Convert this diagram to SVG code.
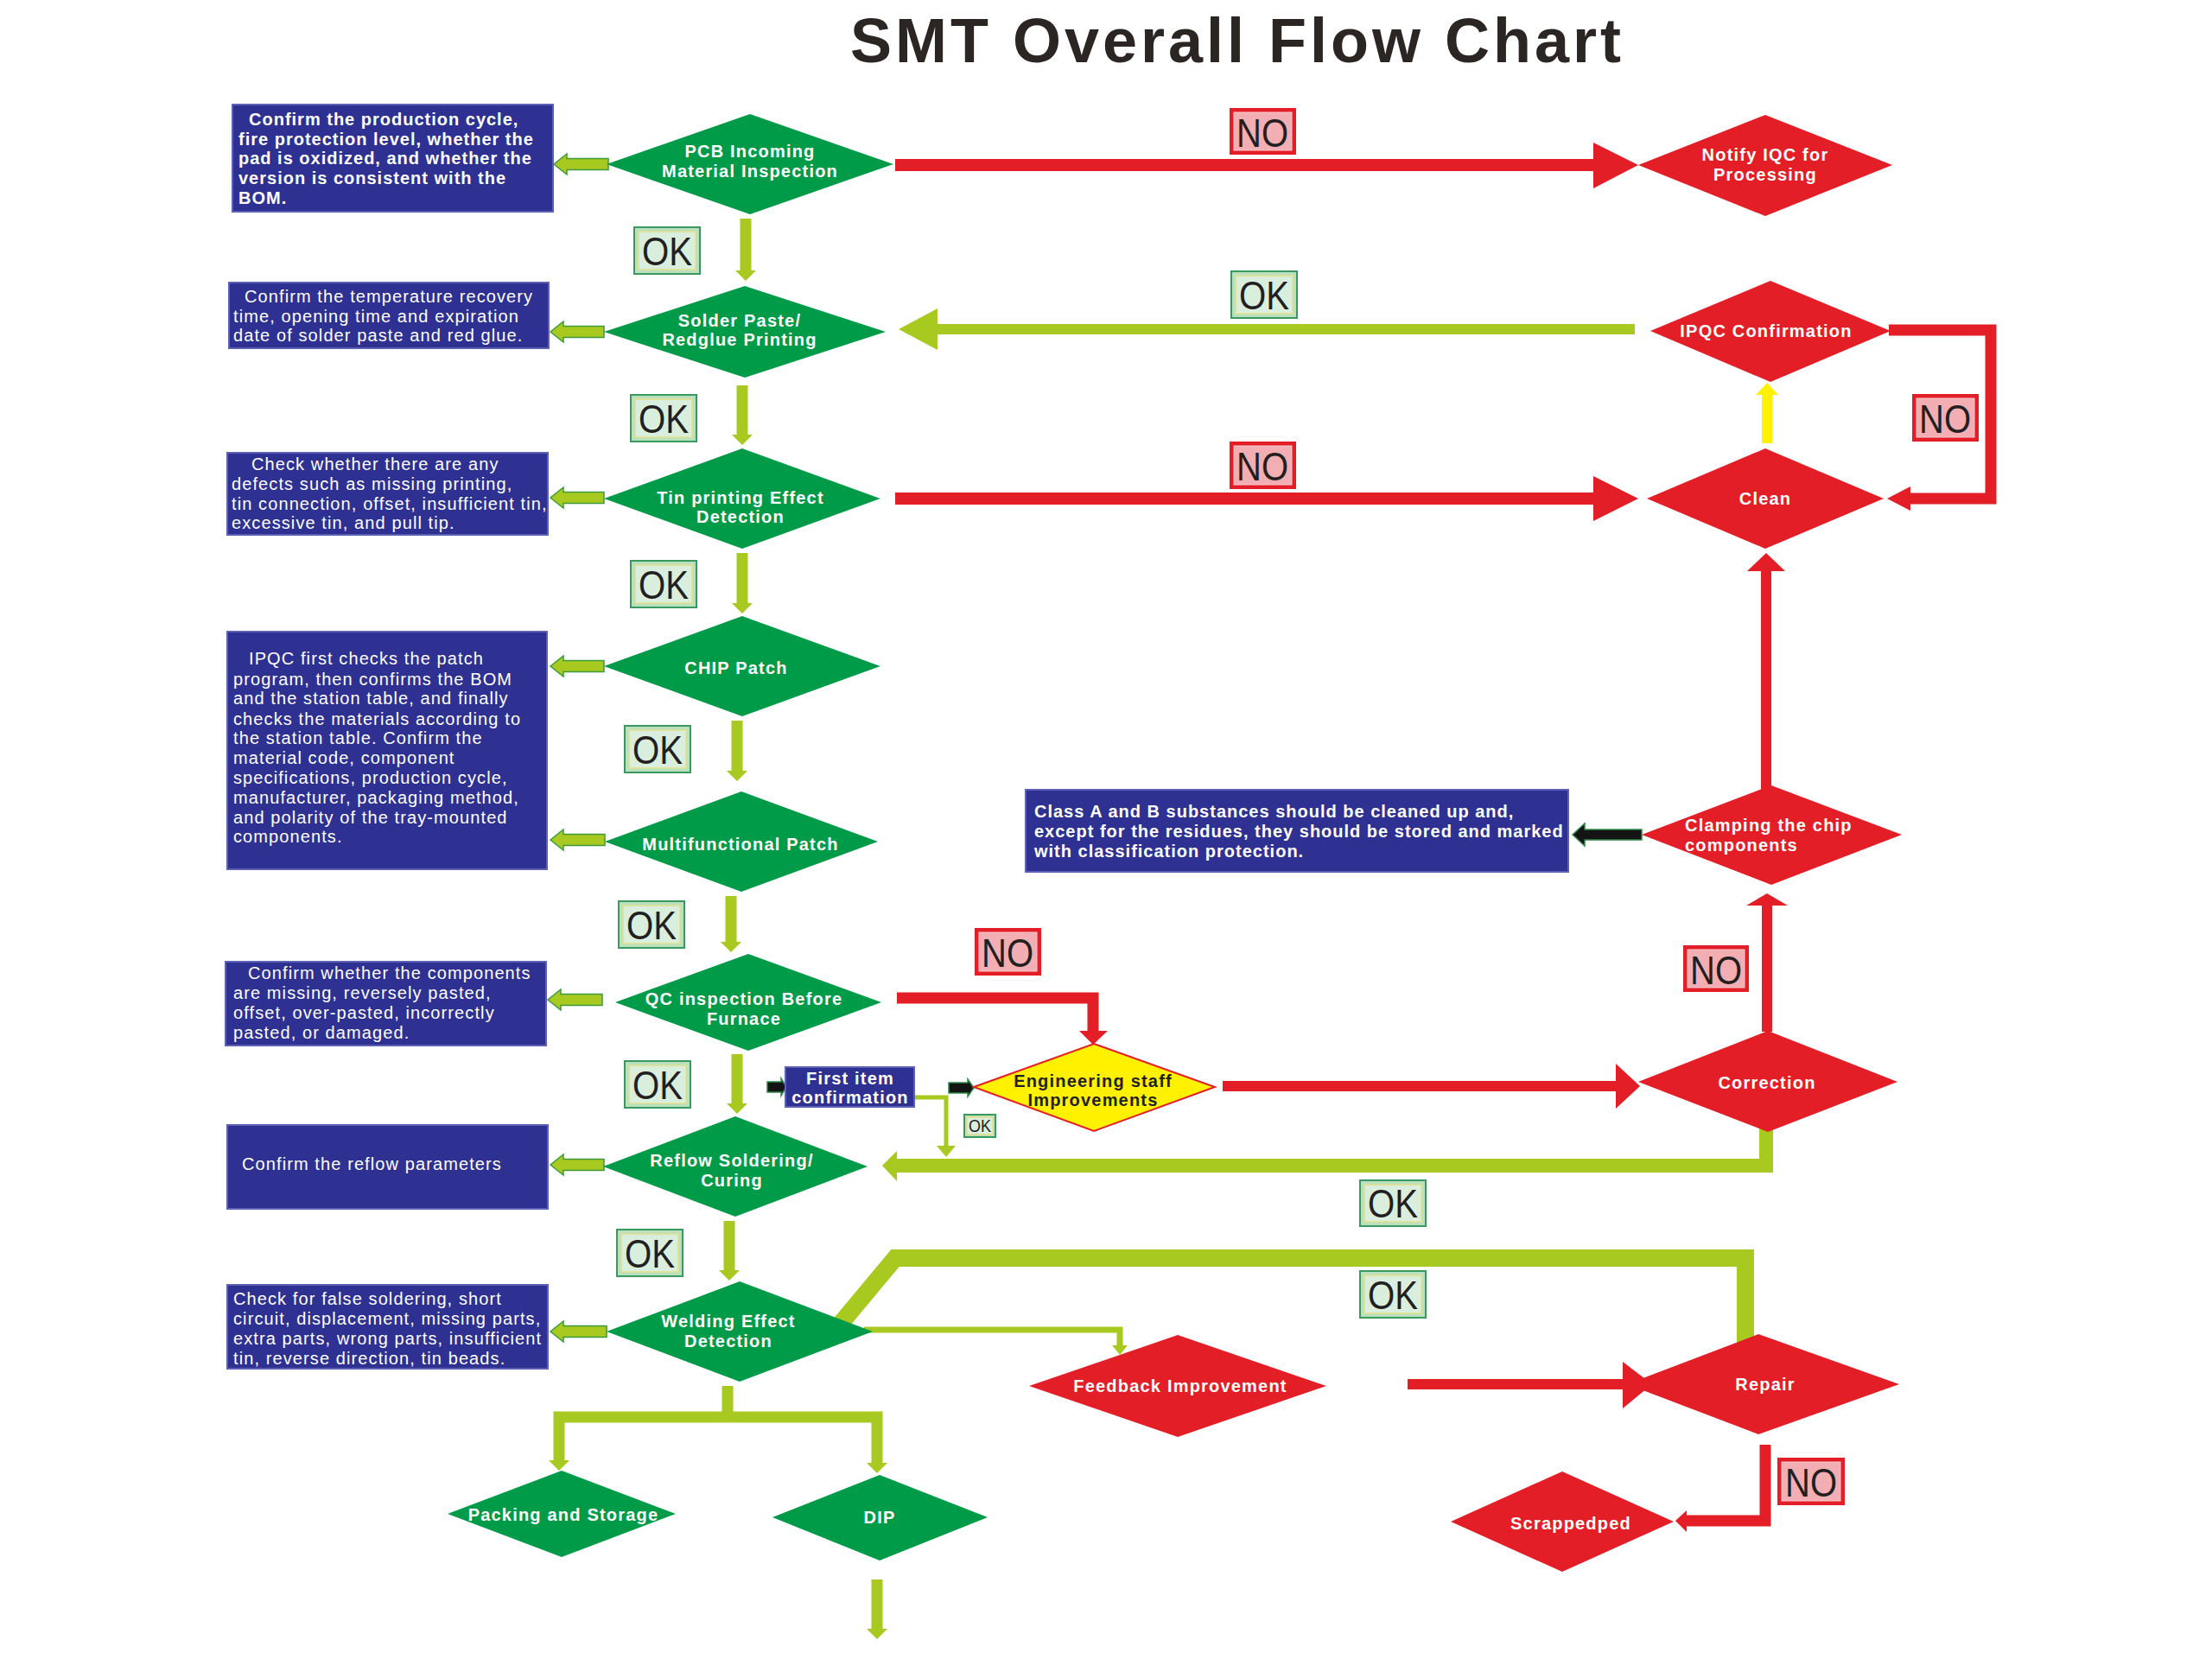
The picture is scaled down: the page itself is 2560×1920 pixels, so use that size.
<svg xmlns="http://www.w3.org/2000/svg" width="2560" height="1920" viewBox="0 0 2560 1920">
<defs>
<style>
.bg{fill:#ffffff}
.dg{fill:#009b48}
.dr{fill:#e41e26}
.dy{fill:#fff100;stroke:#e41e26;stroke-width:2}
.note{fill:#2e3192;stroke:#5d61b3;stroke-width:2}
.t{font-family:"Liberation Sans",Arial,sans-serif;font-size:20px;font-weight:bold;letter-spacing:1.2px;fill:#ffffff;text-anchor:middle}
.tk{fill:#231f20}
.n{font-family:"Liberation Sans",Arial,sans-serif;font-size:20px;letter-spacing:1.1px;fill:#ffffff}
.nb{font-family:"Liberation Sans",Arial,sans-serif;font-size:20px;font-weight:bold;letter-spacing:1px;fill:#ffffff}
.lime{fill:#a8c91f}
.limes{fill:none;stroke:#a8c91f;stroke-linejoin:miter}
.red{fill:#e41e26}
.reds{fill:none;stroke:#e41e26;stroke-linejoin:miter}
.la{fill:#a8c91f;stroke:#3d9a3d;stroke-width:1.5}
.blk{fill:#141414;stroke:#2e8b4a;stroke-width:1.5}
.yel{fill:#fff100}
.oko{fill:#b9e0bf;stroke:#3a9a5e;stroke-width:2}
.oki{fill:#d9eedc;stroke:#e2e08a;stroke-width:1.5}
.noo{fill:#e41e26}
.noi{fill:#f3aeb3;stroke:#f7c9cc;stroke-width:1}
.lbl{font-family:"Liberation Sans",Arial,sans-serif;font-size:46px;fill:#231f20;text-anchor:middle}
.title{font-family:"Liberation Sans",Arial,sans-serif;font-size:72px;font-weight:bold;letter-spacing:4px;fill:#2b2523;text-anchor:middle}
</style>
</defs>
<rect class="bg" x="0" y="0" width="2560" height="1920"/>
<text class="title" x="1432" y="72">SMT Overall Flow Chart</text>

<g id="connectors">
  <!-- note pointer arrows -->
  <polygon class="la" points="641,190 656,178 656,183.5 704,183.5 704,196.5 656,196.5 656,202"/>
  <polygon class="la" points="637,384 652,372 652,377.5 699,377.5 699,390.5 652,390.5 652,396"/>
  <polygon class="la" points="637,576 652,564 652,569.5 699,569.5 699,582.5 652,582.5 652,588"/>
  <polygon class="la" points="637,771 652,759 652,764.5 699,764.5 699,777.5 652,777.5 652,783"/>
  <polygon class="la" points="637,972 652,960 652,965.5 700,965.5 700,978.5 652,978.5 652,984"/>
  <polygon class="la" points="634,1157 649,1145 649,1150.5 697,1150.5 697,1163.5 649,1163.5 649,1169"/>
  <polygon class="la" points="637,1348 652,1336 652,1341.5 699,1341.5 699,1354.5 652,1354.5 652,1360"/>
  <polygon class="la" points="637,1541 652,1529 652,1534.5 702,1534.5 702,1547.5 652,1547.5 652,1553"/>
  <!-- main flow down arrows -->
  <polygon class="lime" points="856.5,253 869.5,253 869.5,313 875,313 863,325 851,313 856.5,313"/>
  <polygon class="lime" points="852.5,446 865.5,446 865.5,503 871,503 859,515 847,503 852.5,503"/>
  <polygon class="lime" points="852.5,640 865.5,640 865.5,698 871,698 859,710 847,698 852.5,698"/>
  <polygon class="lime" points="846.5,834 859.5,834 859.5,892 865,892 853,904 841,892 846.5,892"/>
  <polygon class="lime" points="839.5,1037 852.5,1037 852.5,1090 858,1090 846,1102 834,1090 839.5,1090"/>
  <polygon class="lime" points="846.5,1220 859.5,1220 859.5,1277 865,1277 853,1289 841,1277 846.5,1277"/>
  <polygon class="lime" points="837.5,1413 850.5,1413 850.5,1470 856,1470 844,1482 832,1470 837.5,1470"/>
  <!-- split to packing / DIP -->
  <path class="limes" stroke-width="13" d="M842,1604 V1640 M647,1691 V1640 H1015 V1694"/>
  <polygon class="lime" points="635,1690 659,1690 647,1702"/>
  <polygon class="lime" points="1003,1693 1027,1693 1015,1705"/>
  <polygon class="lime" points="1008.5,1828 1021.5,1828 1021.5,1885 1027,1885 1015,1897 1003,1885 1008.5,1885"/>
  <!-- IPQC OK back to solder paste -->
  <rect class="lime" x="1083" y="375" width="809" height="12"/>
  <polygon class="lime" points="1085,357 1040,381 1085,405"/>
  <!-- correction back to reflow -->
  <path class="limes" stroke-width="16" d="M2044,1300 V1349 H1034"/>
  <polygon class="lime" points="1038,1332 1021,1349 1038,1367"/>
  <!-- first item OK -->
  <path class="limes" stroke-width="5" d="M1056,1270 H1095 V1328"/>
  <polygon class="lime" points="1084,1326 1106,1326 1095,1339"/>
  <!-- welding to repair -->
  <path class="limes" stroke-width="20" d="M966,1540 L1036,1456 H2020 V1560"/>
  <!-- welding to feedback -->
  <path class="limes" stroke-width="7" d="M1000,1539 H1296 V1559"/>
  <polygon class="lime" points="1287,1557 1305,1557 1296,1568"/>
  <!-- red: PCB to notify -->
  <rect class="red" x="1036" y="184" width="810" height="14"/>
  <polygon class="red" points="1844,165 1896,191 1844,218"/>
  <!-- red: tin to clean -->
  <rect class="red" x="1036" y="570" width="810" height="14"/>
  <polygon class="red" points="1844,551 1896,577 1844,603"/>
  <!-- IPQC NO loop to clean -->
  <path class="reds" stroke-width="13" d="M2186,382 H2304 V577 H2208"/>
  <polygon class="red" points="2211,563 2184,577 2211,591"/>
  <!-- clean to IPQC (yellow) -->
  <rect class="yel" x="2039" y="455" width="12" height="58"/>
  <polygon class="yel" points="2032,457 2045,443 2058,457"/>
  <!-- clamping to clean -->
  <rect class="red" x="2038" y="655" width="12" height="260"/>
  <polygon class="red" points="2022,661 2044,640 2066,661"/>
  <!-- correction to clamping -->
  <rect class="red" x="2039" y="1042" width="12" height="152"/>
  <polygon class="red" points="2021,1048 2045,1034 2069,1048"/>
  <!-- QC to engineering -->
  <path class="reds" stroke-width="13" d="M1038,1155 H1265 V1196"/>
  <polygon class="red" points="1249,1193 1282,1193 1265,1209"/>
  <!-- engineering to correction -->
  <rect class="red" x="1415" y="1251" width="458" height="12"/>
  <polygon class="red" points="1870,1231 1898,1257 1870,1283"/>
  <!-- feedback to repair -->
  <rect class="red" x="1629" y="1596" width="255" height="12"/>
  <polygon class="red" points="1878,1576 1912,1602 1878,1630"/>
  <!-- repair to scrapped -->
  <path class="reds" stroke-width="13" d="M2043,1672 V1760 H1948"/>
  <polygon class="red" points="1952,1748 1939,1760 1952,1773"/>
  <!-- black pointers -->
  <polygon class="blk" points="1900,960 1834,960 1834,953 1820,966 1834,979 1834,972 1900,972"/>
  <polygon class="blk" points="888,1252 904,1252 904,1248 910,1258 904,1268 904,1264 888,1264"/>
  <polygon class="blk" points="1098,1253 1120,1253 1120,1249 1127,1259 1120,1269 1120,1265 1098,1265"/>
</g>

<g id="n-pcb"><polygon class="dg" points="702,190 868,132 1034,190 868,248"/>
<text class="t" x="868" y="182">PCB Incoming</text><text class="t" x="868" y="205">Material Inspection</text></g>
<g id="n-solder"><polygon class="dg" points="699,384 862,331 1025,384 862,437"/>
<text class="t" x="856" y="378">Solder Paste/</text><text class="t" x="856" y="400">Redglue Printing</text></g>
<g id="n-tin"><polygon class="dg" points="699,577 859,519 1019,577 859,635"/>
<text class="t" x="857" y="583">Tin printing Effect</text><text class="t" x="857" y="605">Detection</text></g>
<g id="n-chip"><polygon class="dg" points="699,771 859,713 1019,771 859,829"/>
<text class="t" x="852" y="780">CHIP Patch</text></g>
<g id="n-multi"><polygon class="dg" points="700,974 858,916 1016,974 858,1032"/>
<text class="t" x="857" y="984">Multifunctional Patch</text></g>
<g id="n-qc"><polygon class="dg" points="712,1160 866,1104 1020,1160 866,1216"/>
<text class="t" x="861" y="1163">QC inspection Before</text><text class="t" x="861" y="1186">Furnace</text></g>
<g id="n-reflow"><polygon class="dg" points="698,1350 851,1292 1004,1350 851,1408"/>
<text class="t" x="847" y="1350">Reflow Soldering/</text><text class="t" x="847" y="1373">Curing</text></g>
<g id="n-welding"><polygon class="dg" points="702,1541 856,1483 1010,1541 856,1599"/>
<text class="t" x="843" y="1536">Welding Effect</text><text class="t" x="843" y="1559">Detection</text></g>
<g id="n-packing"><polygon class="dg" points="518,1752 650,1702 782,1752 650,1802"/>
<text class="t" x="652" y="1760">Packing and Storage</text></g>
<g id="n-dip"><polygon class="dg" points="894,1756 1018,1707 1143,1756 1018,1806"/>
<text class="t" x="1018" y="1763">DIP</text></g>

<g id="n-notify"><polygon class="dr" points="1896,191 2043,133 2190,191 2043,250"/>
<text class="t" x="2043" y="186">Notify IQC for</text><text class="t" x="2043" y="209">Processing</text></g>
<g id="n-ipqc"><polygon class="dr" points="1910,383 2049,325 2188,383 2049,442"/>
<text class="t" x="2044" y="390">IPQC Confirmation</text></g>
<g id="n-clean"><polygon class="dr" points="1906,577 2043,519 2180,577 2043,635"/>
<text class="t" x="2043" y="584">Clean</text></g>
<g id="n-clamping"><polygon class="dr" points="1900,966 2050,909 2201,966 2050,1024"/>
<text class="t" style="text-anchor:start" x="1950" y="962">Clamping the chip</text><text class="t" style="text-anchor:start" x="1950" y="985">components</text></g>
<g id="n-correction"><polygon class="dr" points="1896,1252 2046,1193 2196,1252 2046,1310"/>
<text class="t" x="2045" y="1260">Correction</text></g>
<g id="n-feedback"><polygon class="dr" points="1191,1604 1363,1545 1535,1604 1363,1663"/>
<text class="t" x="1366" y="1611">Feedback Improvement</text></g>
<g id="n-repair"><polygon class="dr" points="1883,1602 2035,1544 2198,1602 2035,1660"/>
<text class="t" x="2043" y="1609">Repair</text></g>
<g id="n-scrapped"><polygon class="dr" points="1679,1761 1808,1703 1937,1761 1808,1819"/>
<text class="t" x="1818" y="1770">Scrappedped</text></g>
<g id="n-engineering"><polygon class="dy" points="1127,1258 1266,1208 1406,1258 1266,1309"/>
<text class="t tk" x="1265" y="1258">Engineering staff</text><text class="t tk" x="1265" y="1280">Improvements</text></g>

<g id="n-firstitem"><rect class="note" x="909" y="1235" width="149" height="46"/>
<text class="t" x="984" y="1255">First item</text><text class="t" x="984" y="1277">confirmation</text></g>

<g id="note-pcb"><rect class="note" x="269" y="121" width="371" height="124"/>
<text class="nb" x="288" y="145">Confirm the production cycle,</text>
<text class="nb" x="276" y="168">fire protection level, whether the</text>
<text class="nb" x="276" y="190">pad is oxidized, and whether the</text>
<text class="nb" x="276" y="213">version is consistent with the</text>
<text class="nb" x="276" y="236">BOM.</text></g>
<g id="note-solder"><rect class="note" x="265" y="327" width="370" height="76"/>
<text class="n" x="283" y="350">Confirm the temperature recovery</text>
<text class="n" x="270" y="373">time, opening time and expiration</text>
<text class="n" x="270" y="395">date of solder paste and red glue.</text></g>
<g id="note-tin"><rect class="note" x="263" y="524" width="371" height="95"/>
<text class="n" x="291" y="544">Check whether there are any</text>
<text class="n" x="268" y="567">defects such as missing printing,</text>
<text class="n" x="268" y="590">tin connection, offset, insufficient tin,</text>
<text class="n" x="268" y="612">excessive tin, and pull tip.</text></g>
<g id="note-patch"><rect class="note" x="263" y="731" width="370" height="275"/>
<text class="n" x="288" y="769">IPQC first checks the patch</text>
<text class="n" x="270" y="793">program, then confirms the BOM</text>
<text class="n" x="270" y="815">and the station table, and finally</text>
<text class="n" x="270" y="839">checks the materials according to</text>
<text class="n" x="270" y="861">the station table. Confirm the</text>
<text class="n" x="270" y="884">material code, component</text>
<text class="n" x="270" y="907">specifications, production cycle,</text>
<text class="n" x="270" y="930">manufacturer, packaging method,</text>
<text class="n" x="270" y="953">and polarity of the tray-mounted</text>
<text class="n" x="270" y="975">components.</text></g>
<g id="note-qc"><rect class="note" x="261" y="1113" width="371" height="97"/>
<text class="n" x="287" y="1133">Confirm whether the components</text>
<text class="n" x="270" y="1156">are missing, reversely pasted,</text>
<text class="n" x="270" y="1179">offset, over-pasted, incorrectly</text>
<text class="n" x="270" y="1202">pasted, or damaged.</text></g>
<g id="note-reflow"><rect class="note" x="263" y="1302" width="371" height="97"/>
<text class="n" x="280" y="1354">Confirm the reflow parameters</text></g>
<g id="note-welding"><rect class="note" x="263" y="1487" width="371" height="97"/>
<text class="n" x="270" y="1510">Check for false soldering, short</text>
<text class="n" x="270" y="1533">circuit, displacement, missing parts,</text>
<text class="n" x="270" y="1556">extra parts, wrong parts, insufficient</text>
<text class="n" x="270" y="1579">tin, reverse direction, tin beads.</text></g>
<g id="note-clamping"><rect class="note" x="1187" y="914" width="628" height="95"/>
<text class="nb" x="1197" y="946">Class A and B substances should be cleaned up and,</text>
<text class="nb" x="1197" y="969">except for the residues, they should be stored and marked</text>
<text class="nb" x="1197" y="992">with classification protection.</text></g>

<g id="labels">
  <g><rect class="oko" x="734" y="263" width="76" height="54"/><rect class="oki" x="739" y="268" width="66" height="44"/><text class="lbl" x="772" y="307" textLength="58" lengthAdjust="spacingAndGlyphs">OK</text></g>
  <g><rect class="oko" x="730" y="457" width="76" height="54"/><rect class="oki" x="735" y="462" width="66" height="44"/><text class="lbl" x="768" y="501" textLength="58" lengthAdjust="spacingAndGlyphs">OK</text></g>
  <g><rect class="oko" x="730" y="649" width="76" height="54"/><rect class="oki" x="735" y="654" width="66" height="44"/><text class="lbl" x="768" y="693" textLength="58" lengthAdjust="spacingAndGlyphs">OK</text></g>
  <g><rect class="oko" x="723" y="840" width="76" height="54"/><rect class="oki" x="728" y="845" width="66" height="44"/><text class="lbl" x="761" y="884" textLength="58" lengthAdjust="spacingAndGlyphs">OK</text></g>
  <g><rect class="oko" x="716" y="1043" width="76" height="54"/><rect class="oki" x="721" y="1048" width="66" height="44"/><text class="lbl" x="754" y="1087" textLength="58" lengthAdjust="spacingAndGlyphs">OK</text></g>
  <g><rect class="oko" x="723" y="1228" width="76" height="54"/><rect class="oki" x="728" y="1233" width="66" height="44"/><text class="lbl" x="761" y="1272" textLength="58" lengthAdjust="spacingAndGlyphs">OK</text></g>
  <g><rect class="oko" x="714" y="1423" width="76" height="54"/><rect class="oki" x="719" y="1428" width="66" height="44"/><text class="lbl" x="752" y="1467" textLength="58" lengthAdjust="spacingAndGlyphs">OK</text></g>
  <g><rect class="oko" x="1425" y="314" width="76" height="54"/><rect class="oki" x="1430" y="319" width="66" height="44"/><text class="lbl" x="1463" y="358" textLength="58" lengthAdjust="spacingAndGlyphs">OK</text></g>
  <g><rect class="oko" x="1574" y="1366" width="76" height="53"/><rect class="oki" x="1579" y="1371" width="66" height="43"/><text class="lbl" x="1612" y="1409" textLength="58" lengthAdjust="spacingAndGlyphs">OK</text></g>
  <g><rect class="oko" x="1574" y="1471" width="76" height="54"/><rect class="oki" x="1579" y="1476" width="66" height="44"/><text class="lbl" x="1612" y="1515" textLength="58" lengthAdjust="spacingAndGlyphs">OK</text></g>
  <g><rect class="oko" x="1116" y="1290" width="36" height="26"/><rect class="oki" x="1119" y="1293" width="30" height="20"/><text class="lbl" style="font-size:20px" x="1134" y="1310" textLength="26" lengthAdjust="spacingAndGlyphs">OK</text></g>
  <g><rect class="noo" x="1423" y="125" width="77" height="54"/><rect class="noi" x="1428" y="130" width="67" height="44"/><text class="lbl" x="1461" y="170" textLength="60" lengthAdjust="spacingAndGlyphs">NO</text></g>
  <g><rect class="noo" x="1423" y="511" width="77" height="55"/><rect class="noi" x="1428" y="516" width="67" height="45"/><text class="lbl" x="1461" y="556" textLength="60" lengthAdjust="spacingAndGlyphs">NO</text></g>
  <g><rect class="noo" x="2213" y="456" width="77" height="55"/><rect class="noi" x="2218" y="461" width="67" height="45"/><text class="lbl" x="2251" y="501" textLength="60" lengthAdjust="spacingAndGlyphs">NO</text></g>
  <g><rect class="noo" x="1128" y="1074" width="77" height="55"/><rect class="noi" x="1133" y="1079" width="67" height="45"/><text class="lbl" x="1166" y="1119" textLength="60" lengthAdjust="spacingAndGlyphs">NO</text></g>
  <g><rect class="noo" x="1948" y="1094" width="76" height="54"/><rect class="noi" x="1953" y="1099" width="66" height="44"/><text class="lbl" x="1986" y="1139" textLength="60" lengthAdjust="spacingAndGlyphs">NO</text></g>
  <g><rect class="noo" x="2057" y="1687" width="78" height="55"/><rect class="noi" x="2062" y="1692" width="68" height="45"/><text class="lbl" x="2096" y="1732" textLength="60" lengthAdjust="spacingAndGlyphs">NO</text></g>
</g>
</svg>
